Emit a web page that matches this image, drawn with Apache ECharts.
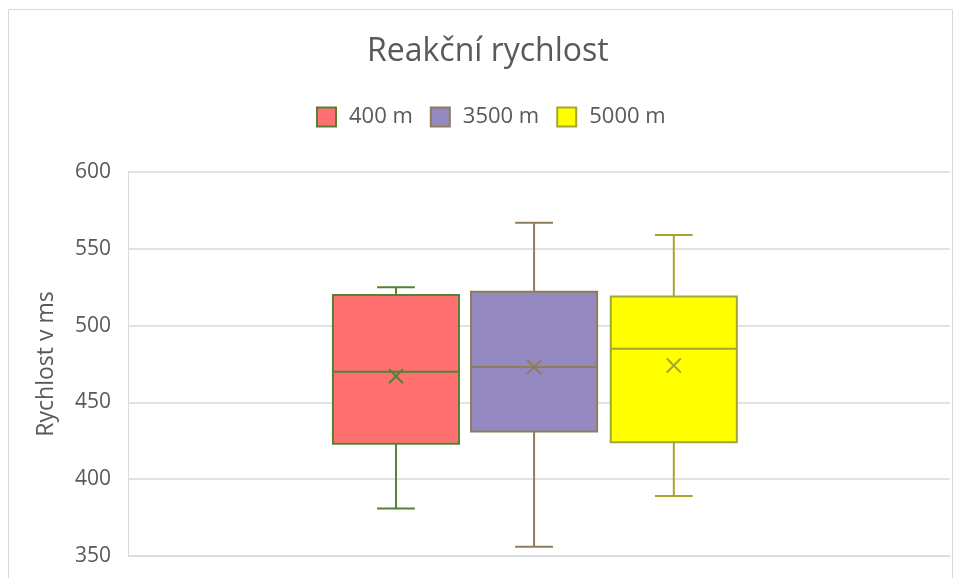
<!DOCTYPE html>
<html>
<head>
<meta charset="utf-8">
<script src="https://cdn.jsdelivr.net/npm/echarts@6/dist/echarts.min.js"></script>
<style>
  html, body { margin: 0; padding: 0; background: #fff; }
  #chart { width: 954px; height: 578px; }
</style>
</head>
<body>
<div id="chart"></div>
<script>
// Box plot values (ms)
const seriesNames = ['400 m', '3500 m', '5000 m'];
const mins = [381, 356, 389];
const q1s = [423, 431, 424];
const medians = [470, 473, 485];
const q3s = [520, 522, 519];
const maxs = [525, 567, 559];
const means = [467, 473, 474];
const yTicks = [350, 400, 450, 500, 550, 600];

// Styling for each box
const fills = ['#ff7070', '#9488c0', '#ffff00'];
const strokes = ['#548235', '#8c7d5c', '#a5a535'];
const offsets = [-0.174, -0.006, 0.164]; // share of the band width

const font = '"Open Sans", "Noto Sans", sans-serif';
const textColor = '#595959';

// Draws one box with whiskers and the mean cross
function makeRenderItem(idx) {
    return function (params, api) {
        const cat = api.value(0);
        const band = api.size([1, 0])[0];
        const cx = api.coord([cat, 0])[0] + offsets[idx] * band;
        const half = band * 0.0767;
        const cap = band * 0.023;
        const yMin = api.coord([cat, api.value(1)])[1];
        const yQ1 = api.coord([cat, api.value(2)])[1];
        const yMed = api.coord([cat, api.value(3)])[1];
        const yQ3 = api.coord([cat, api.value(4)])[1];
        const yMax = api.coord([cat, api.value(5)])[1];
        const yMean = api.coord([cat, api.value(6)])[1];
        const line = { stroke: strokes[idx], lineWidth: 2 };
        const m = 7;
        return {
            type: 'group',
            children: [
                { type: 'line', shape: { x1: cx, y1: yMax, x2: cx, y2: yQ3 }, style: line },
                { type: 'line', shape: { x1: cx - cap, y1: yMax, x2: cx + cap, y2: yMax }, style: line },
                { type: 'line', shape: { x1: cx, y1: yQ1, x2: cx, y2: yMin }, style: line },
                { type: 'line', shape: { x1: cx - cap, y1: yMin, x2: cx + cap, y2: yMin }, style: line },
                {
                    type: 'rect',
                    shape: { x: cx - half, y: yQ3, width: half * 2, height: yQ1 - yQ3 },
                    style: { fill: fills[idx], stroke: strokes[idx], lineWidth: 2 }
                },
                { type: 'line', shape: { x1: cx - half, y1: yMed, x2: cx + half, y2: yMed }, style: line },
                { type: 'line', shape: { x1: cx - m, y1: yMean - m, x2: cx + m, y2: yMean + m }, style: line },
                { type: 'line', shape: { x1: cx - m, y1: yMean + m, x2: cx + m, y2: yMean - m }, style: line }
            ]
        };
    };
}

const chart = echarts.init(document.getElementById('chart'));

const series = seriesNames.map(function (name, i) {
    return {
        name: name,
        type: 'custom',
        renderItem: makeRenderItem(i),
        itemStyle: { color: fills[i], borderColor: strokes[i] },
        encode: { x: 0, y: [1, 2, 3, 4, 5, 6] },
        data: [[0, mins[i], q1s[i], medians[i], q3s[i], maxs[i], means[i]]]
    };
});

const options = {
    animation: false,
    backgroundColor: '#fff',
    title: {
        text: 'Reakční rychlost',
        left: 362,
        top: 31,
        textStyle: { fontFamily: font, fontSize: 32, fontWeight: 'normal', color: textColor }
    },
    legend: {
        top: 101,
        left: 311,
        itemWidth: 19,
        itemHeight: 19,
        itemGap: 17,
        textStyle: { fontFamily: font, fontSize: 22, color: textColor, padding: [0, 0, 0, 8] },
        data: seriesNames.map(function (name, i) {
            return {
                name: name,
                icon: 'rect',
                itemStyle: { color: fills[i], borderColor: strokes[i], borderWidth: 2 }
            };
        })
    },
    graphic: [{
        type: 'rect',
        shape: { x: 8.5, y: 9.5, width: 944, height: 600 },
        style: { fill: 'none', stroke: '#d9d9d9', lineWidth: 1 },
        silent: true
    }],
    grid: { left: 128, right: 4, top: 172, bottom: 22 },
    xAxis: {
        type: 'category',
        data: [''],
        axisLine: { show: true, lineStyle: { color: '#d9d9d9' } },
        axisTick: { show: false },
        axisLabel: { show: false }
    },
    yAxis: {
        type: 'value',
        min: yTicks[0],
        max: yTicks[yTicks.length - 1],
        interval: 50,
        name: 'Rychlost v ms',
        nameLocation: 'middle',
        nameGap: 70,
        nameTextStyle: { fontFamily: font, fontSize: 23, color: textColor },
        axisLine: { show: true, lineStyle: { color: '#d9d9d9' } },
        axisTick: { show: false },
        axisLabel: { fontFamily: font, fontSize: 21, color: textColor, margin: 17 },
        splitLine: { lineStyle: { color: '#d9d9d9', width: 1.5 } }
    },
    series: series
};

chart.setOption(options);
</script>
</body>
</html>
